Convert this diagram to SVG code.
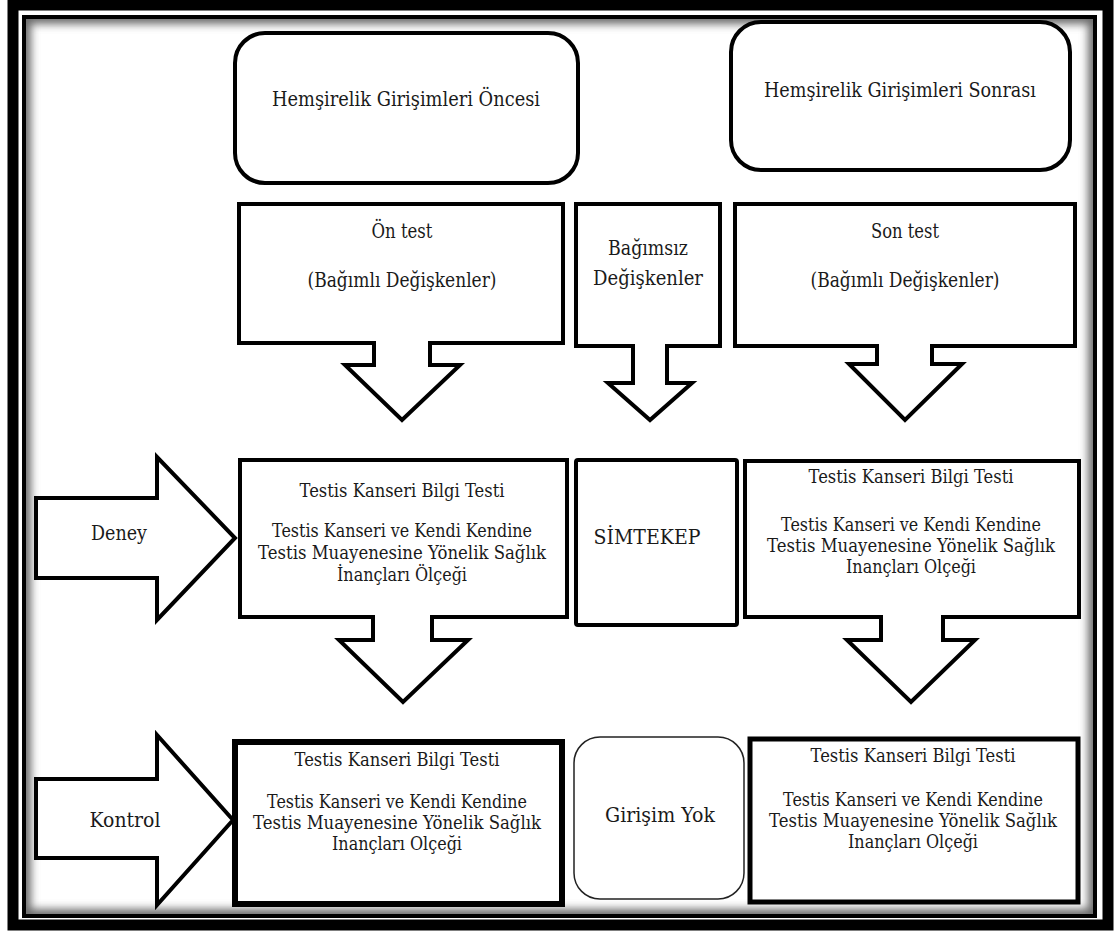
<svg xmlns="http://www.w3.org/2000/svg" width="1115" height="933" viewBox="0 0 1115 933">
<style>
.s{fill:#fff;stroke:#000;stroke-width:4;stroke-linejoin:miter}
text{font-family:'DejaVu Serif','Liberation Serif',serif;fill:#1a1a1a;text-anchor:middle}
.f20{font-size:18.5px}
.f21{font-size:19.5px}
.f22{font-size:20px}
</style>
<defs>
<clipPath id="inner"><rect x="24" y="17" width="1071" height="899"/></clipPath>
<filter id="blur" x="-5%" y="-5%" width="110%" height="110%"><feGaussianBlur stdDeviation="4"/></filter>
</defs>
<rect width="1115" height="933" fill="#fff"/>
<g id="frame">
<g clip-path="url(#inner)"><rect x="24" y="17" width="1071" height="899" fill="none" stroke="#6a6a6a" stroke-width="14" filter="url(#blur)"/></g>
<rect x="13" y="5" width="1095" height="920" fill="none" stroke="#000" stroke-width="11"/>
<rect x="24" y="17" width="1071" height="899" fill="none" stroke="#000" stroke-width="4"/>
</g>
<g id="connectors">
<path id="arrow-deney" class="s" d="M36,498 H157 V457 L235,538 L157,620 V578 H36 Z"/>
<path id="arrow-kontrol" class="s" d="M36,779 H157 V735 L233,820 L157,905 V858 H36 Z"/>
</g>
<g id="oncesi">
<rect class="s" x="235" y="33" width="343" height="150" rx="30"/>
<text class="f22" x="406" y="106" textLength="268" lengthAdjust="spacingAndGlyphs">Hemşirelik Girişimleri Öncesi</text>
</g>
<g id="sonrasi">
<rect class="s" x="731" y="22" width="339" height="148" rx="30"/>
<text class="f22" x="900" y="97" textLength="272" lengthAdjust="spacingAndGlyphs">Hemşirelik Girişimleri Sonrası</text>
</g>
<g id="ontest">
<path class="s" d="M239,204 H563 V343 H430 V365 H460 L402,420 L345,365 H374 V343 H239 Z"/>
<text class="f21" x="402" y="238" textLength="61" lengthAdjust="spacingAndGlyphs">Ön test</text>
<text class="f21" x="402" y="287" textLength="189" lengthAdjust="spacingAndGlyphs">(Bağımlı Değişkenler)</text>
</g>
<g id="bagimsiz">
<path class="s" d="M576,204 H720 V346 H667 V383 H692 L650,420 L608,383 H633 V346 H576 Z"/>
<text class="f21" x="648" y="255" textLength="80" lengthAdjust="spacingAndGlyphs">Bağımsız</text>
<text class="f21" x="648" y="285" textLength="110" lengthAdjust="spacingAndGlyphs">Değişkenler</text>
</g>
<g id="sontest">
<path class="s" d="M735,204 H1075 V346 H932 V364 H962 L905,420 L849,364 H877 V346 H735 Z"/>
<text class="f21" x="905" y="238" textLength="68" lengthAdjust="spacingAndGlyphs">Son test</text>
<text class="f21" x="905" y="287" textLength="189" lengthAdjust="spacingAndGlyphs">(Bağımlı Değişkenler)</text>
</g>
<g id="deney">
<text class="f21" x="119" y="540" textLength="56" lengthAdjust="spacingAndGlyphs">Deney</text>
</g>
<g id="deney-on">
<path class="s" d="M240,460 H567 V617 H432 V640 H468 L403,702 L339,640 H373 V617 H240 Z"/>
<text class="f20" x="402" y="497" textLength="205" lengthAdjust="spacingAndGlyphs">Testis Kanseri Bilgi Testi</text>
<text class="f20" x="402" y="537" textLength="260" lengthAdjust="spacingAndGlyphs">Testis Kanseri ve Kendi Kendine</text>
<text class="f20" x="402" y="559" textLength="288" lengthAdjust="spacingAndGlyphs">Testis Muayenesine Yönelik Sağlık</text>
<text class="f20" x="402" y="581" textLength="130" lengthAdjust="spacingAndGlyphs">İnançları Ölçeği</text>
</g>
<g id="simtekep">
<rect class="s" x="576" y="460" width="161" height="165" rx="2"/>
<text class="f22" x="647" y="544" textLength="107" lengthAdjust="spacingAndGlyphs">SİMTEKEP</text>
</g>
<g id="deney-son">
<path class="s" d="M745,461 H1079 V617 H943 V640 H975 L911,702 L847,640 H881 V617 H745 Z"/>
<text class="f20" x="911" y="483" textLength="205" lengthAdjust="spacingAndGlyphs">Testis Kanseri Bilgi Testi</text>
<text class="f20" x="911" y="531" textLength="260" lengthAdjust="spacingAndGlyphs">Testis Kanseri ve Kendi Kendine</text>
<text class="f20" x="911" y="552" textLength="288" lengthAdjust="spacingAndGlyphs">Testis Muayenesine Yönelik Sağlık</text>
<text class="f20" x="911" y="573" textLength="130" lengthAdjust="spacingAndGlyphs">Inançları Olçeği</text>
</g>
<g id="kontrol">
<text class="f21" x="125" y="827" textLength="71" lengthAdjust="spacingAndGlyphs">Kontrol</text>
</g>
<g id="kontrol-on">
<rect x="235" y="742" width="327" height="162" fill="#fff" stroke="#000" stroke-width="6"/>
<text class="f20" x="397" y="766" textLength="205" lengthAdjust="spacingAndGlyphs">Testis Kanseri Bilgi Testi</text>
<text class="f20" x="397" y="808" textLength="260" lengthAdjust="spacingAndGlyphs">Testis Kanseri ve Kendi Kendine</text>
<text class="f20" x="397" y="829" textLength="288" lengthAdjust="spacingAndGlyphs">Testis Muayenesine Yönelik Sağlık</text>
<text class="f20" x="397" y="850" textLength="130" lengthAdjust="spacingAndGlyphs">Inançları Olçeği</text>
</g>
<g id="girisim-yok">
<rect x="574" y="737" width="170" height="162" rx="26" fill="#fff" stroke="#222" stroke-width="1.5"/>
<text class="f22" x="660" y="822" textLength="110" lengthAdjust="spacingAndGlyphs">Girişim Yok</text>
</g>
<g id="kontrol-son">
<rect x="750" y="739" width="328" height="163" fill="#fff" stroke="#000" stroke-width="5"/>
<text class="f20" x="913" y="762" textLength="205" lengthAdjust="spacingAndGlyphs">Testis Kanseri Bilgi Testi</text>
<text class="f20" x="913" y="806" textLength="260" lengthAdjust="spacingAndGlyphs">Testis Kanseri ve Kendi Kendine</text>
<text class="f20" x="913" y="827" textLength="288" lengthAdjust="spacingAndGlyphs">Testis Muayenesine Yönelik Sağlık</text>
<text class="f20" x="913" y="848" textLength="130" lengthAdjust="spacingAndGlyphs">Inançları Olçeği</text>
</g>
</svg>
